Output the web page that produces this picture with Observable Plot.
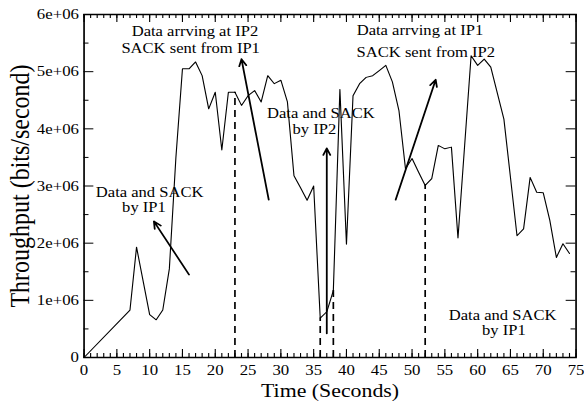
<!DOCTYPE html>
<html><head><meta charset="utf-8">
<script src="https://cdn.jsdelivr.net/npm/d3@7"></script>
<script src="https://cdn.jsdelivr.net/npm/@observablehq/plot@0.6"></script>
<style>html,body{margin:0;padding:0;background:#fff;} #chart{width:584px;height:403px;overflow:hidden;}</style>
</head><body><div id="chart"></div>
<script>
// ---- data ----
const times = [0,7,8,10,11,12,13,14,15,16,17,18,19,20,21,22,23,24,25,26,27,28,29,30,31,32,33,34,35,36,37,38,39,40,41,42,43,44,45,46,47,48,49,50,51,52,53,54,55,56,57,59,60,61,62,64,66,67,68,69,70,71,72,73,74];
const throughput = [0,0.83e6,1.93e6,0.75e6,0.66e6,0.83e6,1.55e6,3.5e6,5.05e6,5.05e6,5.17e6,4.93e6,4.35e6,4.64e6,3.63e6,4.64e6,4.64e6,4.41e6,4.58e6,4.67e6,4.47e6,4.93e6,4.79e6,4.85e6,4.47e6,3.18e6,2.97e6,2.75e6,3.0e6,0.69e6,0.8e6,1.17e6,4.69e6,1.98e6,4.58e6,4.79e6,4.9e6,4.93e6,5.02e6,5.11e6,4.82e6,4.32e6,3.3e6,3.48e6,3.24e6,3.01e6,3.13e6,3.71e6,3.65e6,3.68e6,2.09e6,5.28e6,5.11e6,5.22e6,5.08e6,4.17e6,2.13e6,2.25e6,3.15e6,2.89e6,2.88e6,2.4e6,1.75e6,1.99e6,1.82e6];

const xTicks = [0,5,10,15,20,25,30,35,40,45,50,55,60,65,70,75];
const xMinorTicks = d3.range(0, 76, 1);
const yTicks = [0,1e6,2e6,3e6,4e6,5e6,6e6];
const yTickLabels = ["0","1e+06","2e+06","3e+06","4e+06","5e+06","6e+06"];
const yMinorTicks = [0.5e6,1.5e6,2.5e6,3.5e6,4.5e6,5.5e6];

const dashT = [23,36,38,52];
const dashV = [4.64e6,0.69e6,1.17e6,3.01e6];

const arrowT1 = [16.0,28.15,37,47.5];
const arrowV1 = [1.45e6,2.76e6,0.42e6,2.76e6];
const arrowT2 = [10.65,24.0,37,53.6];
const arrowV2 = [2.38e6,5.22e6,3.66e6,4.86e6];

const noteLines = ["Data arrving at IP2","SACK sent from IP1","Data arrving at IP1","SACK sent from IP2","Data and SACK","by IP2","Data and SACK","by IP1","Data and SACK","by IP1"];
const noteT = [16.9,16.25,51.2,52.1,36.1,35.1,10.0,9.13,63.8,64.0];
const noteV = [5.63e6,5.32e6,5.64e6,5.25e6,4.19e6,3.91e6,2.81e6,2.54e6,0.66e6,0.39e6];

const xTitle = "Time (Seconds)";
const yTitle = "Throughput (bits/second)";

// ---- tables ----
const series = times.map((t,i)=>({t, v: throughput[i]}));
const dashes = dashT.map((t,i)=>({t, v: dashV[i]}));
const arrows = arrowT1.map((t,i)=>({x1:t, y1:arrowV1[i], x2:arrowT2[i], y2:arrowV2[i]}));
const notes = noteLines.map((label,i)=>({label, t: noteT[i], v: noteV[i]}));

const S = 1.12; // horizontal stretch of the original rendering
const W = 584 / S;
const xMax = 75, yMax = 6e6;
const xTickMaj = 0.14e6, xTickMin = 0.07e6;   // tick lengths (style)
const yTickMaj = 1.5, yTickMin = 0.76;

const svg = Plot.plot({
  width: W, height: 403,
  marginLeft: 83.5 / S, marginRight: W - 575.5 / S, marginTop: 14, marginBottom: 46,
  style: {fontFamily: "'Liberation Serif', 'Times New Roman', serif", fontSize: "15px", background: "white", color: "black"},
  x: {domain: [0, xMax]},
  y: {domain: [0, yMax]},
  marks: [
    // ticks (inward)
    Plot.ruleX(xMinorTicks, {x: d=>d, y1: 0, y2: xTickMin, stroke: "black", strokeWidth: 1}),
    Plot.ruleX(xTicks, {x: d=>d, y1: 0, y2: xTickMaj, stroke: "black", strokeWidth: 1}),
    Plot.ruleX(xMinorTicks, {x: d=>d, y1: yMax, y2: yMax - xTickMin, stroke: "black", strokeWidth: 1}),
    Plot.ruleX(xTicks, {x: d=>d, y1: yMax, y2: yMax - xTickMaj, stroke: "black", strokeWidth: 1}),
    Plot.ruleY(yMinorTicks, {y: d=>d, x1: 0, x2: yTickMin, stroke: "black", strokeWidth: 1}),
    Plot.ruleY(yTicks, {y: d=>d, x1: 0, x2: yTickMaj, stroke: "black", strokeWidth: 1}),
    Plot.ruleY(yMinorTicks, {y: d=>d, x1: xMax, x2: xMax - yTickMin, stroke: "black", strokeWidth: 1}),
    Plot.ruleY(yTicks, {y: d=>d, x1: xMax, x2: xMax - yTickMaj, stroke: "black", strokeWidth: 1}),
    // tick labels
    Plot.axisX(xTicks, {tickSize: 0, tickPadding: 7, fontSize: 15, label: null, tickFormat: d => String(d)}),
    Plot.axisY(yTicks, {tickSize: 0, tickPadding: 4.6, fontSize: 15, label: null, tickFormat: d => yTickLabels[yTicks.indexOf(d)]}),
    // axis titles
    Plot.text([xTitle], {frameAnchor: "bottom", dy: 39, lineAnchor: "bottom", textAnchor: "middle", fontSize: 19.5, fill: "black"}),
    Plot.text([yTitle], {frameAnchor: "left", dx: 25 - 83.5 / S, rotate: -90, lineAnchor: "bottom", textAnchor: "middle", fontSize: 24, fill: "black"}),
    // dashed drop lines
    Plot.ruleX(dashes, {x: "t", y1: 0, y2: "v", stroke: "black", strokeWidth: 1.5, strokeDasharray: "7,5"}),
    // data line
    Plot.line(series, {x: "t", y: "v", stroke: "black", strokeWidth: 1}),
    // arrows
    Plot.arrow(arrows, {x1: "x1", y1: "y1", x2: "x2", y2: "y2", stroke: "black", strokeWidth: 1.6, headLength: 7, headAngle: 50}),
    // annotations
    Plot.text(notes, {x: "t", y: "v", text: "label", textAnchor: "middle", lineAnchor: "bottom", fontSize: 14.8, fill: "black"}),
    Plot.frame({stroke: "black", strokeWidth: 1.5})
  ]
});
svg.setAttribute("width", 584);
svg.setAttribute("height", 403);
svg.setAttribute("preserveAspectRatio", "none");
svg.style.width = "584px";
svg.style.height = "403px";
svg.style.maxWidth = "none";
document.getElementById("chart").appendChild(svg);
</script>
</body></html>
